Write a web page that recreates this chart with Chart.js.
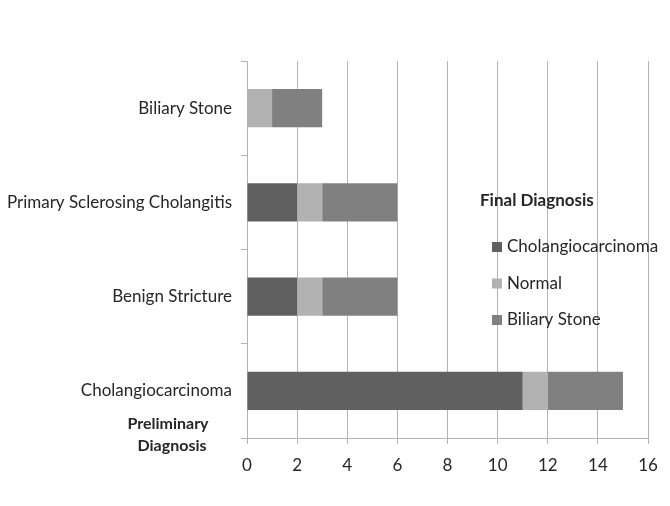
<!DOCTYPE html>
<html>
<head>
<meta charset="utf-8">
<script src="https://cdn.jsdelivr.net/npm/chart.js@4"></script>
<style>
  html, body { margin: 0; padding: 0; background: #fff; }
  #wrap { width: 670px; height: 506px; }
</style>
</head>
<body>
<div id="wrap"><canvas id="barChart" width="670" height="506"></canvas></div>
<script>
// Preliminary diagnosis categories (top to bottom)
const categories = ['Biliary Stone', 'Primary Sclerosing Cholangitis', 'Benign Stricture', 'Cholangiocarcinoma'];

// Final diagnosis counts per category
const cholangioValues = [0, 2, 2, 11];
const normalValues = [1, 1, 1, 1];
const stoneValues = [2, 3, 3, 3];

const seriesNames = ['Cholangiocarcinoma', 'Normal', 'Biliary Stone'];
const seriesColors = ['#606060', '#b2b2b2', '#808080'];

const xTicks = [0, 2, 4, 6, 8, 10, 12, 14, 16];

const fontFamily = 'Lato, "Open Sans", sans-serif';
const gridColor = '#b4b4b4';
const textColor = '#262626';

// draws the legend box and the "Preliminary Diagnosis" title like the original
const extraText = {
    id: 'extraText',
    afterDraw(chart) {
        const c = chart.ctx;
        c.save();
        c.fillStyle = textColor;
        c.textBaseline = 'middle';
        c.font = 'bold 17px ' + fontFamily;
        c.textAlign = 'left';
        c.fillText('Final Diagnosis', 480, 201);
        c.font = '17px ' + fontFamily;
        chart.data.datasets.forEach((ds, i) => {
            const y = 247 + i * 36.5;
            c.fillStyle = ds.backgroundColor;
            c.fillRect(492, y - 5, 10, 10);
            c.fillStyle = textColor;
            c.fillText(ds.label, 507, y);
        });
        c.font = 'bold 16px ' + fontFamily;
        c.textAlign = 'center';
        c.fillText('Preliminary', 168, 424);
        c.fillText('Diagnosis', 172, 446);
        c.restore();
    }
};

const ctxBar = document.getElementById('barChart').getContext('2d');
const barChart = new Chart(ctxBar, {
    type: 'bar',
    data: {
        labels: categories,
        datasets: [
            { label: seriesNames[0], data: cholangioValues, backgroundColor: seriesColors[0] },
            { label: seriesNames[1], data: normalValues, backgroundColor: seriesColors[1] },
            { label: seriesNames[2], data: stoneValues, backgroundColor: seriesColors[2] }
        ]
    },
    options: {
        indexAxis: 'y',
        responsive: false,
        animation: false,
        layout: { padding: { top: 61, right: 22, bottom: 0, left: 0 } },
        datasets: { bar: { categoryPercentage: 1, barPercentage: 0.405 } },
        plugins: {
            legend: { display: false },
            tooltip: { enabled: false }
        },
        scales: {
            x: {
                stacked: true,
                min: 0,
                max: 16,
                afterBuildTicks(axis) { axis.ticks = xTicks.map(v => ({ value: v })); },
                afterFit(axis) { axis.height = 68; },
                grid: { color: gridColor, lineWidth: 1, tickLength: 6, drawTicks: true },
                border: { color: gridColor },
                ticks: { color: textColor, padding: 11, font: { family: fontFamily, size: 17 } }
            },
            y: {
                stacked: true,
                afterFit(axis) { axis.width = 247; },
                grid: { drawOnChartArea: false, offset: true, color: gridColor, tickLength: 6 },
                border: { color: gridColor },
                ticks: { color: textColor, padding: 9, font: { family: fontFamily, size: 17 } }
            }
        }
    },
    plugins: [extraText]
});
</script>
</body>
</html>
